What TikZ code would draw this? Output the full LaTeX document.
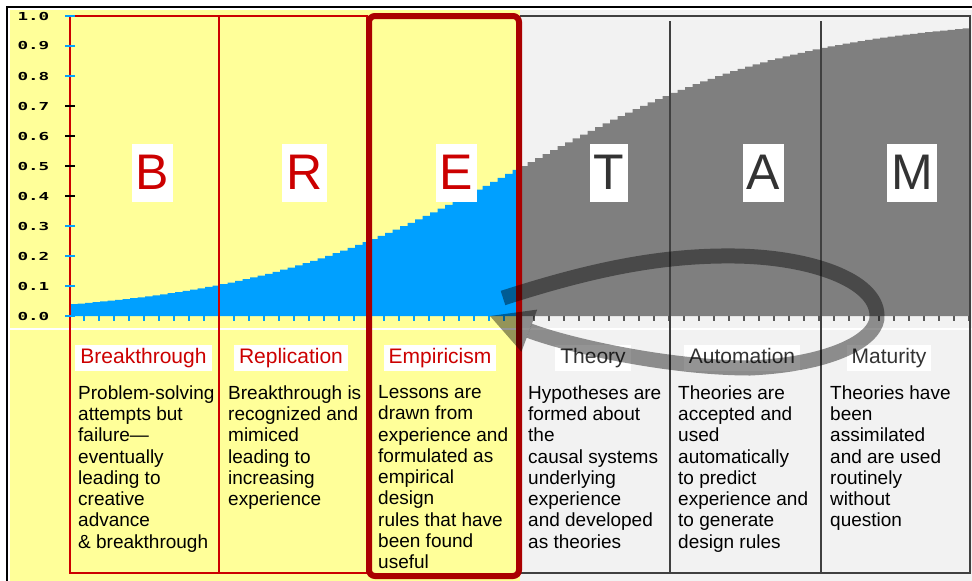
\documentclass[tikz,border=0pt]{standalone}
\usepackage{graphicx}
\usepackage{fontspec}
\setmainfont{Liberation Sans}
\newfontfamily\axisfont{DejaVu Sans Mono}
\usetikzlibrary{arrows.meta}
\definecolor{chartblue}{RGB}{0,160,255}
\definecolor{chartgray}{RGB}{127,127,127}
\definecolor{paleyellow}{RGB}{255,255,153}
\definecolor{palegray}{RGB}{242,242,242}
\definecolor{phasered}{RGB}{204,0,0}
\definecolor{boxred}{RGB}{170,0,0}
\definecolor{framegray}{RGB}{64,64,64}
\definecolor{textgray}{RGB}{51,51,51}
\definecolor{tickgray}{RGB}{90,90,90}
\begin{document}
\begin{tikzpicture}[x=1pt,y=-1pt,
  bigletter/.style={fill=white, inner xsep=4pt, inner ysep=9pt, text height=36pt, text depth=4pt, font=\fontsize{50}{55}\selectfont, anchor=base},
  phasehead/.style={fill=white, inner xsep=5pt, inner ysep=3pt, text height=15.5pt, text depth=4.5pt, font=\fontsize{21}{24}\selectfont, anchor=base},
  bodytext/.style={align=left, anchor=north west, inner sep=0pt, font=\fontsize{19}{21.25}\selectfont},
  ylabel/.style={anchor=east, inner sep=0pt, font=\axisfont\bfseries\fontsize{11}{11}\selectfont},
  thinred/.style={draw=phasered, line width=1.8pt},
  thingray/.style={draw=framegray, line width=1.8pt},
  loopstyle/.style={draw=black, draw opacity=0.42, line width=15pt},
  loophead/.style={fill=black, fill opacity=0.42}
]
\useasboundingbox (0,0) rectangle (972,581);
\fill[white] (0,0) rectangle (972,581);
% outer frame
\draw[black, line width=2pt] (7,581) -- (7,7) -- (972,7);
% backgrounds
\fill[paleyellow] (10,10) rectangle (520,581);
\fill[palegray] (520,10) rectangle (972,581);
% curve fills
\fill[chartblue] (70,316) -- plot[const plot, domain=70:520, samples=61] (\x,{316-300/(1+exp(-(\x-520)/141))}) -- (520,316) -- cycle;
\fill[chartgray] (520,316) -- plot[const plot, domain=520:970, samples=61] (\x,{316-300/(1+exp(-(\x-520)/141))}) -- (970,316) -- cycle;
% x ticks
\foreach \xx in {84,99,...,519} \draw[chartblue, line width=2pt] (\xx,316) -- (\xx,321);
\foreach \xx in {534,549,...,969} \draw[tickgray, line width=2pt] (\xx,316) -- (\xx,321);
% separator
\draw[white, line width=2pt] (10,329) -- (972,329);
% y axis
\draw[chartblue, line width=1.5pt] (70,16) -- (70,316);
% phase frames
\draw[thinred] (70,16) rectangle (367,573);
\draw[thinred] (219,16) -- (219,573);
\draw[thingray] (520,16) -- (970,16) -- (970,573) -- (520,573);
\draw[thingray] (670,21) -- (670,573);
\draw[thingray] (821,21) -- (821,573);
% y ticks and labels
\foreach \k/\c/\lab in {0/chartblue/0.0,1/chartblue/0.1,2/chartblue/0.2,3/chartblue/0.3,4/black/0.4,5/black/0.5,6/black/0.6,7/black/0.7,8/chartblue/0.8,9/chartblue/0.9,10/chartblue/1.0}{
  \draw[\c, line width=1.5pt] (65,{316-30*\k}) -- (75,{316-30*\k});
  \node[ylabel] (ylab\k) at (49.5,{316-30*\k}) {\scalebox{1.6}[1]{\lab}};
}
% big letters
\node[bigletter, text=phasered] (letB) at (152.5,189) {B};
\node[bigletter, text=phasered] (letR) at (304.5,189) {R};
\node[bigletter, text=phasered] (letE) at (456.5,189) {E};
\node[bigletter, text=textgray] (letT) at (609,189) {T};
\node[bigletter, text=textgray] (letA) at (763.5,189) {A};
\node[bigletter, text=textgray] (letM) at (912,189) {M};
% phase headings
\node[phasehead, text=phasered] (headB) at (143.5,363) {Breakthrough};
\node[phasehead, text=phasered] (headR) at (291,363) {Replication};
\node[phasehead, text=phasered] (headE) at (440,363) {Empiricism};
\node[phasehead, text=textgray] (headT) at (593,363) {Theory};
\node[phasehead, text=textgray] (headA) at (742,363) {Automation};
\node[phasehead, text=textgray] (headM) at (889,363) {Maturity};
% descriptions
\node[bodytext] (bodyB) at (78,385.4) {Problem-solving\\attempts but\\failure—\\eventually\\leading to\\creative\\advance\\\& breakthrough};
\node[bodytext] (bodyR) at (228,385.4) {Breakthrough is\\recognized and\\mimiced\\leading to\\increasing\\experience};
\node[bodytext] (bodyE) at (378,385.4) {Lessons are\\drawn from\\experience and\\formulated as\\empirical\\design\\rules that have\\been found\\useful};
\node[bodytext] (bodyT) at (528,385.4) {Hypotheses are\\formed about\\the\\causal systems\\underlying\\experience\\and developed\\as theories};
\node[bodytext] (bodyA) at (678,385.4) {Theories are\\accepted and\\used\\automatically\\to predict\\experience and\\to generate\\design rules};
\node[bodytext] (bodyM) at (830,385.4) {Theories have\\been\\assimilated\\and are used\\routinely\\without\\question};
% highlighted empiricism box
\draw[boxred, line width=6pt, rounded corners=6pt] (369,16) rectangle (519,576);
% feedback loop arrow
\coordinate (loopstart) at (503,298);
\coordinate (headbase) at (529.3,330.7);
\coordinate (loopend) at (490,316);
\coordinate (headcornerA) at (537.2,309.6);
\coordinate (headcornerB) at (521.4,351.8);
\draw[loopstyle] (loopstart) .. controls (590,270) and (660,255) .. (735,256)
  .. controls (810,257) and (876,280) .. (877,315)
  .. controls (879,338) and (835,364) .. (750,368)
  .. controls (670,368) and (570,346) .. (headbase);
\fill[loophead] (loopend) -- (headcornerA) -- (headcornerB) -- cycle;
\end{tikzpicture}
\end{document}
